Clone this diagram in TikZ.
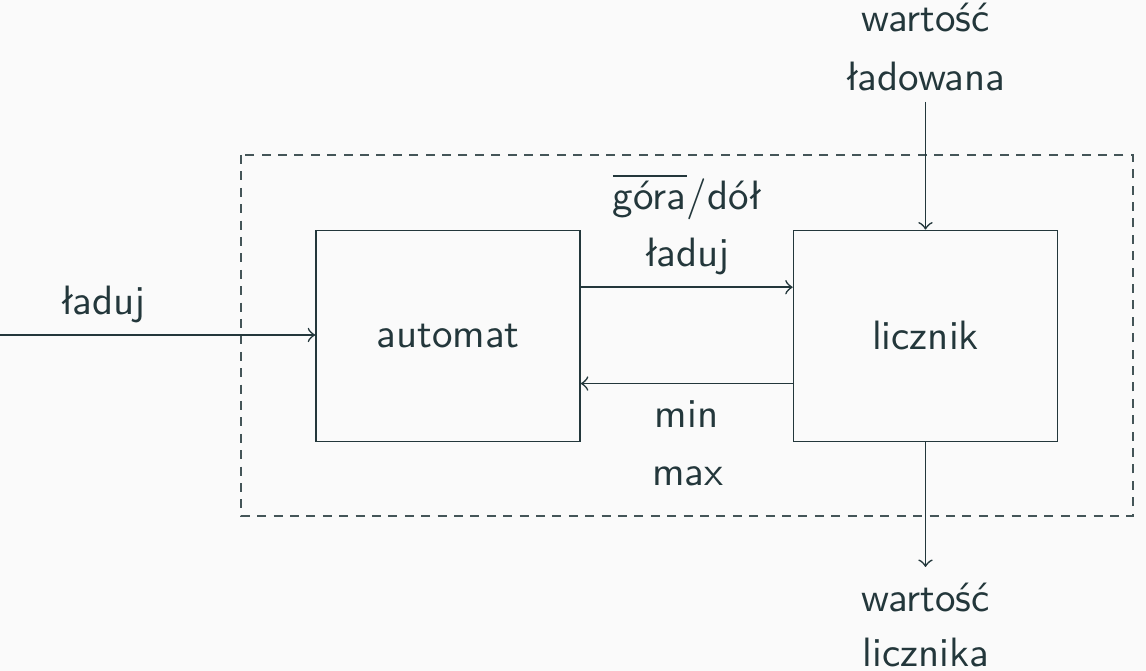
\documentclass[tikz,border=0pt]{standalone}
\usetikzlibrary{positioning}
\definecolor{mDarkTeal}{HTML}{23373B}
\definecolor{mBackground}{HTML}{FAFAFA}
\tikzset{
  block/.style={draw=mDarkTeal, minimum width=64.4pt, minimum height=51.5pt, inner sep=0pt},
  lbl/.style={text=mDarkTeal, font=\sffamily, inner sep=0pt, anchor=base},
  signal/.style={draw=mDarkTeal, ->},
}
\begin{document}
\begin{tikzpicture}[x=0.2439pt, y=-0.2439pt, font=\sffamily, text=mDarkTeal]
\fill[mBackground] (0,0) rectangle (1146,671);
\useasboundingbox (0,0) rectangle (1146,671);
% uklad (obwiednia)
\draw[mDarkTeal!85, dash pattern=on 2.2pt off 1.8pt] (241,155) rectangle (1133,516);
\node[block] (automat) at (448,336) {automat};
\node[block] (licznik) at (925.5,336) {licznik};
% wejscie i wyjscia
\coordinate (wej) at (0,335);
\coordinate (ladow) at (925.5,102);
\coordinate (wyj) at (925.5,567);
\draw[signal] (wej) -- (wej -| automat.west);
\draw[signal] (ladow) -- (licznik.north);
\draw[signal] (licznik.south) -- (wyj);
\draw[signal] ([yshift=11.9pt]automat.east) -- ([yshift=11.9pt]licznik.west);
\draw[signal] ([yshift=-11.6pt]licznik.west) -- ([yshift=-11.6pt]automat.east);
% opisy
\node[lbl] (laduj) at (103,315) {ładuj};
\node[lbl] (gora) at (687.5,210) {$\overline{\mbox{góra}}$/dół};
\node[lbl] (laduj2) at (687,267) {ładuj};
\node[lbl] (min) at (686.5,428) {min};
\node[lbl] (max) at (688,486) {max};
\node[lbl] (wart1) at (925.5,32) {wartość};
\node[lbl] (ladowana) at (925.5,91) {ładowana};
\node[lbl] (wart2) at (925.5,612) {wartość};
\node[lbl] (licznika) at (926,667) {licznika};
\end{tikzpicture}
\end{document}
